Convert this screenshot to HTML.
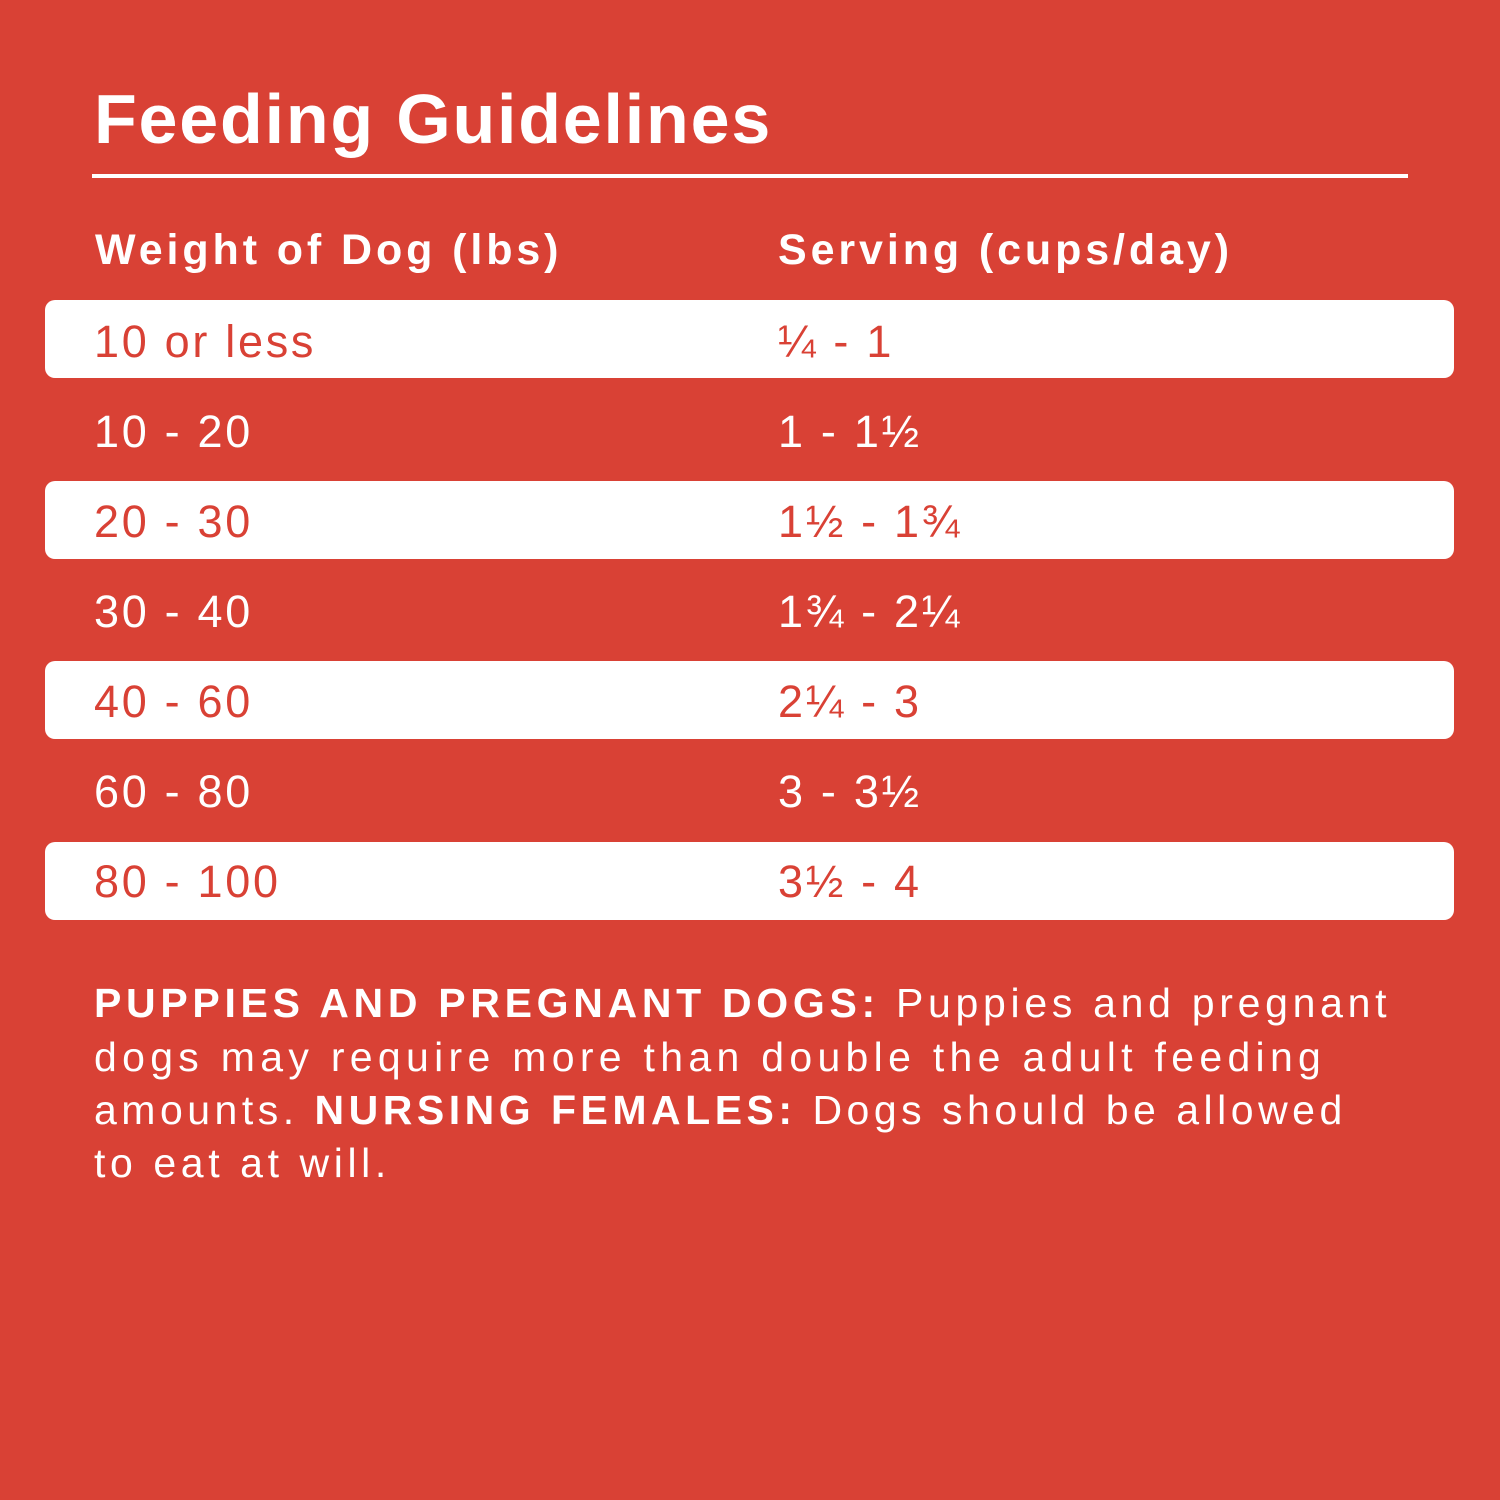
<!DOCTYPE html>
<html><head><meta charset="utf-8"><style>
html,body{margin:0;padding:0}
body{width:1500px;height:1500px;background:#D94135;position:relative;overflow:hidden;font-family:"Liberation Sans",sans-serif;color:#fff}
.a{position:absolute;white-space:nowrap;line-height:1}
.t{left:94px;top:84px;font-size:70px;font-weight:bold;letter-spacing:1.8px}
.rule{position:absolute;left:92px;top:174px;width:1316px;height:4px;background:#fff}
.h{top:229px;font-size:43px;font-weight:bold;letter-spacing:3.9px}
.bar{position:absolute;left:45px;width:1409px;height:78px;background:#fff;border-radius:10px}
.r{font-size:45px;letter-spacing:2.7px}
.red{color:#D94135}
.p{left:94px;font-size:41px}
</style></head><body>
<div class="a t">Feeding Guidelines</div>
<div class="rule"></div>
<div class="a h" style="left:95px">Weight of Dog (lbs)</div>
<div class="a h" style="left:778px">Serving (cups/day)</div>
<div class="bar" style="top:300px"></div>
<div class="bar" style="top:481px"></div>
<div class="bar" style="top:661px"></div>
<div class="bar" style="top:842px"></div>
<div class="a r red" style="left:94px;top:319px">10 or less</div><div class="a r red" style="left:778px;top:319px">¼ - 1</div>
<div class="a r" style="left:94px;top:409px">10 - 20</div><div class="a r" style="left:778px;top:409px">1 - 1½</div>
<div class="a r red" style="left:94px;top:499px">20 - 30</div><div class="a r red" style="left:778px;top:499px">1½ - 1¾</div>
<div class="a r" style="left:94px;top:589px">30 - 40</div><div class="a r" style="left:778px;top:589px">1¾ - 2¼</div>
<div class="a r red" style="left:94px;top:679px">40 - 60</div><div class="a r red" style="left:778px;top:679px">2¼ - 3</div>
<div class="a r" style="left:94px;top:769px">60 - 80</div><div class="a r" style="left:778px;top:769px">3 - 3½</div>
<div class="a r red" style="left:94px;top:859px">80 - 100</div><div class="a r red" style="left:778px;top:859px">3½ - 4</div>
<div class="a p" style="top:983px;letter-spacing:4.7px"><b>PUPPIES AND PREGNANT DOGS:</b> Puppies and pregnant</div>
<div class="a p" style="top:1037px;letter-spacing:5.3px">dogs may require more than double the adult feeding</div>
<div class="a p" style="top:1090px;letter-spacing:4.5px">amounts. <b>NURSING FEMALES:</b> Dogs should be allowed</div>
<div class="a p" style="top:1143px;letter-spacing:4.6px">to eat at will.</div>
</body></html>
